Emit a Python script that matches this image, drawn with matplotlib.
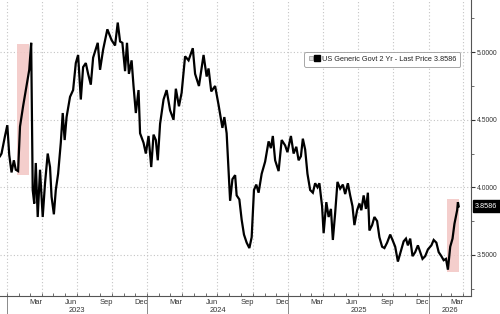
import matplotlib
matplotlib.use('Agg')
import matplotlib.pyplot as plt
import matplotlib.dates as mdates
import matplotlib.ticker as mticker
from matplotlib.lines import Line2D
from matplotlib.legend_handler import HandlerTuple
from matplotlib.patches import Rectangle
import pandas as pd

dates = [
    '2022-12-14', '2022-12-18', '2022-12-27', '2023-01-02', '2023-01-07', '2023-01-13', '2023-01-19',
    '2023-01-24', '2023-01-30', '2023-02-04', '2023-02-12', '2023-02-21', '2023-02-28', '2023-03-05',
    '2023-03-09', '2023-03-13', '2023-03-17', '2023-03-22', '2023-03-28', '2023-04-04', '2023-04-10',
    '2023-04-17', '2023-04-23', '2023-04-27', '2023-05-03', '2023-05-08', '2023-05-14', '2023-05-21',
    '2023-05-26', '2023-05-31', '2023-06-05', '2023-06-14', '2023-06-22', '2023-06-29', '2023-07-05',
    '2023-07-12', '2023-07-18', '2023-07-25', '2023-07-31', '2023-08-07', '2023-08-13', '2023-08-25',
    '2023-08-31', '2023-09-08', '2023-09-19', '2023-09-30', '2023-10-09', '2023-10-16', '2023-10-22',
    '2023-10-28', '2023-11-04', '2023-11-09', '2023-11-14', '2023-11-21', '2023-11-26', '2023-12-02',
    '2023-12-09', '2023-12-13', '2023-12-22', '2023-12-28', '2024-01-04', '2024-01-11', '2024-01-17',
    '2024-01-23', '2024-01-28', '2024-02-03', '2024-02-12', '2024-02-20', '2024-02-29', '2024-03-09',
    '2024-03-15', '2024-03-23', '2024-03-30', '2024-04-08', '2024-04-17', '2024-04-28', '2024-05-04',
    '2024-05-14', '2024-05-26', '2024-06-03', '2024-06-08', '2024-06-15', '2024-06-25', '2024-07-04',
    '2024-07-14', '2024-07-19', '2024-07-25', '2024-08-03', '2024-08-09', '2024-08-16', '2024-08-20',
    '2024-08-27', '2024-09-02', '2024-09-08', '2024-09-15', '2024-09-22', '2024-09-28', '2024-10-04',
    '2024-10-10', '2024-10-16', '2024-10-24', '2024-11-02', '2024-11-11', '2024-11-17', '2024-11-22',
    '2024-11-28', '2024-12-07', '2024-12-15', '2024-12-24', '2024-12-30', '2025-01-08', '2025-01-15',
    '2025-01-22', '2025-01-28', '2025-02-03', '2025-02-08', '2025-02-14', '2025-02-20', '2025-02-27',
    '2025-03-06', '2025-03-12', '2025-03-18', '2025-03-23', '2025-03-30', '2025-04-03', '2025-04-10',
    '2025-04-16', '2025-04-22', '2025-04-27', '2025-05-03', '2025-05-09', '2025-05-16', '2025-05-23',
    '2025-05-29', '2025-06-05', '2025-06-11', '2025-06-17', '2025-06-22', '2025-06-29', '2025-07-05',
    '2025-07-10', '2025-07-16', '2025-07-22', '2025-07-27', '2025-07-31', '2025-08-07', '2025-08-13',
    '2025-08-20', '2025-08-26', '2025-09-02', '2025-09-08', '2025-09-15', '2025-09-23', '2025-09-29',
    '2025-10-06', '2025-10-13', '2025-10-19', '2025-10-28', '2025-11-03', '2025-11-08', '2025-11-14',
    '2025-11-20', '2025-11-27', '2025-12-04', '2025-12-10', '2025-12-16', '2025-12-23', '2025-12-30',
    '2026-01-08', '2026-01-14', '2026-01-21', '2026-01-27', '2026-02-03', '2026-02-09', '2026-02-15',
    '2026-02-20', '2026-02-26', '2026-03-04', '2026-03-09', '2026-03-16', '2026-03-18', '2026-03-20',
]
values = [
    4.23, 4.25, 4.38, 4.46, 4.24, 4.11, 4.20,
    4.13, 4.12, 4.45, 4.60, 4.75, 4.87, 5.07,
    3.98, 3.88, 4.18, 3.78, 4.13, 3.78, 4.03,
    4.25, 4.15, 3.93, 3.80, 3.98, 4.10, 4.33,
    4.55, 4.35, 4.52, 4.67, 4.72, 4.92, 4.98,
    4.65, 4.89, 4.92, 4.84, 4.76, 4.96, 5.07,
    4.87, 5.02, 5.17, 5.09, 5.05, 5.22, 5.08,
    5.07, 4.86, 5.07, 4.84, 4.94, 4.75, 4.55,
    4.72, 4.40, 4.33, 4.25, 4.38, 4.15, 4.39,
    4.35, 4.20, 4.47, 4.65, 4.72, 4.57, 4.50,
    4.73, 4.60, 4.70, 4.97, 4.94, 5.03, 4.84,
    4.75, 4.98, 4.82, 4.88, 4.71, 4.75, 4.61,
    4.44, 4.52, 4.40, 3.90, 4.06, 4.09, 3.94,
    3.91, 3.76, 3.65, 3.59, 3.55, 3.63, 3.98,
    4.02, 3.96, 4.10, 4.19, 4.34, 4.29, 4.38,
    4.20, 4.12, 4.35, 4.31, 4.26, 4.38, 4.25,
    4.30, 4.20, 4.23, 4.36, 4.28, 4.10, 3.98,
    3.96, 4.03, 4.00, 4.03, 3.86, 3.66, 3.89,
    3.78, 3.84, 3.61, 3.81, 4.04, 3.99, 4.02,
    3.95, 4.03, 3.94, 3.86, 3.72, 3.83, 3.88,
    3.83, 3.94, 3.84, 3.96, 3.68, 3.72, 3.78,
    3.75, 3.63, 3.56, 3.55, 3.59, 3.65, 3.61,
    3.56, 3.45, 3.51, 3.60, 3.62, 3.57, 3.62,
    3.49, 3.52, 3.57, 3.52, 3.47, 3.49, 3.54,
    3.57, 3.61, 3.59, 3.52, 3.49, 3.46, 3.47,
    3.39, 3.56, 3.62, 3.73, 3.83, 3.89, 3.8586,
]

highlight_starts = ['2023-01-28', '2026-02-18']
highlight_ends = ['2023-02-28', '2026-03-22']
highlight_lows = [4.09, 3.375]
highlight_highs = [5.06, 3.913]

month_labels = {3: 'Mar', 6: 'Jun', 9: 'Sep', 12: 'Dec'}
years = [2023, 2024, 2025, 2026]
ytick_values = [3.5, 4.0, 4.5, 5.0]
series_name = 'US Generic Govt 2 Yr - Last Price'
last_price = 3.8586

x_start = pd.Timestamp('2022-12-14')
x_end = pd.Timestamp('2026-04-21')
y_min, y_max = 3.195, 5.387

FONT = ['Liberation Sans Narrow', 'Liberation Sans', 'DejaVu Sans']
plt.rcParams['font.family'] = FONT

fig = plt.figure(figsize=(5.0, 3.14), dpi=100)
ax = fig.add_axes([0.0, 18 / 314, 471 / 500, 296 / 314])

x = pd.to_datetime(dates)

# highlight boxes
for s, e, lo, hi in zip(highlight_starts, highlight_ends, highlight_lows, highlight_highs):
    s_num = mdates.date2num(pd.Timestamp(s))
    e_num = mdates.date2num(pd.Timestamp(e))
    ax.add_patch(Rectangle((s_num, lo), e_num - s_num, hi - lo,
                           facecolor='#f3c6c4', edgecolor='none', alpha=0.85, zorder=1))

ax.plot(x, values, color='black', lw=1.6, zorder=3, solid_joinstyle='miter')

ax.set_xlim(x_start, x_end)
ax.set_ylim(y_min, y_max)

# spines
for side in ['top', 'left']:
    ax.spines[side].set_visible(False)
ax.spines['bottom'].set_color('#555555')
ax.spines['right'].set_color('#555555')
ax.spines['bottom'].set_linewidth(0.8)
ax.spines['right'].set_linewidth(0.8)

# y axis on the right
ax.yaxis.tick_right()
ax.yaxis.set_major_locator(mticker.FixedLocator(ytick_values))
ax.yaxis.set_major_formatter(mticker.FormatStrFormatter('%.4f'))
ax.yaxis.set_minor_locator(mticker.MultipleLocator(0.25))
ax.tick_params(axis='y', which='major', length=3, width=0.8, color='#333333',
               labelsize=4.9, labelcolor='#333333', pad=1.0)
ax.tick_params(axis='y', which='minor', length=2, width=0.6, color='#555555')

# x axis: monthly ticks, labels mid-month of quarter-end months
month_starts = pd.date_range('2023-01-01', x_end, freq='MS')
ax.xaxis.set_major_locator(mticker.FixedLocator(mdates.date2num(month_starts)))
ax.xaxis.set_major_formatter(mticker.NullFormatter())
ax.tick_params(axis='x', which='major', direction='in', length=2, width=0.6, color='#555555')

label_pos, label_txt = [], []
for yr in years:
    for m, lab in month_labels.items():
        mid = pd.Timestamp(yr, m, 1) + pd.Timedelta(days=15)
        if x_start <= mid <= x_end:
            label_pos.append(mdates.date2num(mid))
            label_txt.append(lab)
ax.xaxis.set_minor_locator(mticker.FixedLocator(label_pos))
ax.xaxis.set_minor_formatter(mticker.FixedFormatter(label_txt))
ax.tick_params(axis='x', which='minor', length=0, labelsize=5.4, labelcolor='#333333', pad=2)

# gridlines at quarter starts / major y
for q in pd.date_range('2023-01-01', x_end, freq='QS'):
    ax.axvline(q, color='#c4c4c4', lw=0.8, ls=(0, (1, 2)), zorder=0)
for yv in ytick_values:
    ax.axhline(yv, color='#c4c4c4', lw=0.8, ls=(0, (1, 2)), zorder=0)

# year labels and separators
for yr in years:
    ys = max(pd.Timestamp(yr, 1, 1), x_start)
    ye = min(pd.Timestamp(yr + 1, 1, 1), x_end)
    mid = ys + (ye - ys) / 2
    ax.annotate(str(yr), xy=(mdates.date2num(mid), 0), xycoords=('data', 'axes fraction'),
                xytext=(0, -8.0), textcoords='offset points', ha='center', va='top',
                fontsize=5.4, color='#333333', annotation_clip=False)
    sep = mdates.date2num(pd.Timestamp(yr, 1, 1))
    ax.add_line(Line2D([sep, sep], [0, -0.065], transform=ax.get_xaxis_transform(),
                       color='#777777', lw=0.6, clip_on=False))

# legend
h = (Line2D([], [], marker='s', ls='', mfc='#dddddd', mec='#999999', ms=3.0, mew=0.5),
     Line2D([], [], marker='s', ls='', color='black', ms=4.0))
leg = ax.legend([h], [f'{series_name} {last_price:.4f}'],
                handler_map={tuple: HandlerTuple(ndivide=None, pad=0.15)},
                loc='upper right', bbox_to_anchor=(0.977, 0.824), fontsize=5.3,
                frameon=True, fancybox=True, edgecolor='#999999', framealpha=1,
                handlelength=1.6, handletextpad=0.3, borderpad=0.5, borderaxespad=0)
leg.get_frame().set_linewidth(0.6)
for t in leg.get_texts():
    t.set_color('#222222')

# last value tag
ax.annotate(f'{last_price:.4f}', xy=(1.0, last_price), xycoords=('axes fraction', 'data'),
            xytext=(3.0, 0), textcoords='offset points', ha='left', va='center',
            fontsize=5.2, color='white', annotation_clip=False,
            bbox=dict(boxstyle='square,pad=0.35', fc='black', ec='black'))

fig.savefig('out.png', dpi=100)
